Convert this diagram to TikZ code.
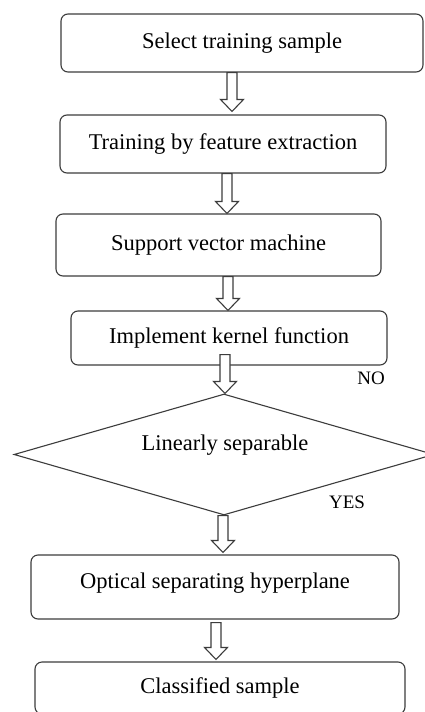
\documentclass[tikz,border=0pt]{standalone}
\usepackage{fontspec}
\setmainfont{Liberation Serif}
\usetikzlibrary{shapes.geometric,calc}
\definecolor{ln}{HTML}{3C3C3C}
\tikzset{
  stepbox/.style={draw=ln, line width=1.1pt, rounded corners=7pt, inner sep=0pt,
    font=\fontsize{22.5}{26}\selectfont, text=black},
  decbox/.style={draw=ln, line width=1.1pt, diamond, inner sep=0pt},
  txt/.style={font=\fontsize{22.5}{26}\selectfont, text=black, inner sep=0pt},
  lbl/.style={font=\fontsize{19}{22}\selectfont, text=black, inner sep=0pt},
  arr/.style={draw=ln, line width=1.1pt, fill=white, line join=miter}
}
% #1 x position, #2 start point, #3 end point
\newcommand\hollowarrow[3]{%
  \draw[arr] let \p1=(#2), \p2=(#3) in
    (#1pt-5pt,\y1) -- (#1pt-5pt,\y2+12pt) -- (#1pt-11.5pt,\y2+12pt) -- (#1pt,\y2)
    -- (#1pt+11.5pt,\y2+12pt) -- (#1pt+5pt,\y2+12pt) -- (#1pt+5pt,\y1) -- cycle;}
\begin{document}
\begin{tikzpicture}[x=1pt,y=-1pt]
\useasboundingbox[fill=white] (0,0) rectangle (424,712);
\node[stepbox, minimum width=362, minimum height=58] (b1) at (242,43) {Select training sample};
\node[stepbox, minimum width=326, minimum height=58] (b2) at (223,144) {Training by feature extraction};
\node[stepbox, minimum width=325, minimum height=62] (b3) at (218.5,245) {Support vector machine};
\node[stepbox, minimum width=316, minimum height=54] (b4) at (229,338) {Implement kernel function};
\node[decbox, minimum width=420, minimum height=121] (d1) at (224,454.5) {};
\node[txt] (d1t) at (225,445) {Linearly separable};
\node[stepbox, minimum width=368, minimum height=64, text depth=12pt] (b5) at (215,587) {Optical separating hyperplane};
\node[stepbox, minimum width=370, minimum height=52] (b6) at (220,688) {Classified sample};
\node[lbl] (no) at (371,378) {NO};
\node[lbl] (yes) at (347,502) {YES};
\hollowarrow{232}{b1.south}{$(b2.north)+(0,-3)$}
\hollowarrow{227}{b2.south}{b3.north}
\hollowarrow{228}{b3.south}{b4.north}
\hollowarrow{225}{$(b4.south)+(0,-11)$}{d1.north}
\hollowarrow{223}{d1.south}{$(b5.north)+(0,-2)$}
\hollowarrow{216}{$(b5.south)+(0,3)$}{$(b6.north)+(0,-2)$}
\end{tikzpicture}
\end{document}
